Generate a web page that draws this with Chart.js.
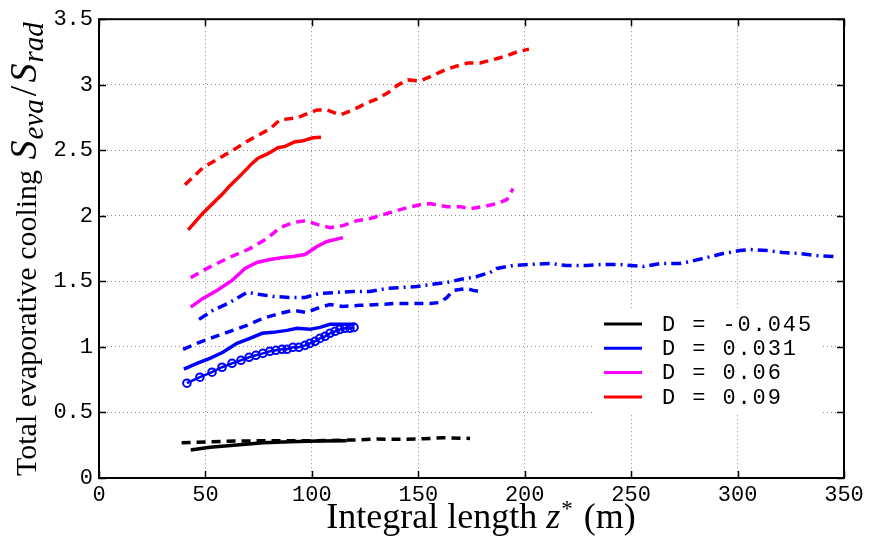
<!DOCTYPE html>
<html>
<head>
<meta charset="utf-8">
<script src="https://cdn.jsdelivr.net/npm/chart.js@4.4.1/dist/chart.umd.min.js"></script>
<style>
html, body { margin: 0; padding: 0; background: #fff; }
</style>
</head>
<body>
<canvas id="chart" width="873" height="540"></canvas>
<script>

// axis ticks
var xTickValues = [0, 50, 100, 150, 200, 250, 300, 350];
var yTickValues = [0, 0.5, 1, 1.5, 2, 2.5, 3, 3.5];

var legendLabels = ['D = -0.045', 'D = 0.031', 'D = 0.06', 'D = 0.09'];
var legendColors = ['#000000', '#0000ff', '#ff00ff', '#ff0000'];

// D = -0.045 (black)
var black_solid_x = [43.1, 52.1, 64.7, 77.2, 89.7, 102.3, 116.3];
var black_solid_y = [0.213, 0.234, 0.251, 0.269, 0.276, 0.282, 0.284];
var black_dash_x = [38.8, 52.1, 64.7, 77.2, 89.7, 102.3, 117.9, 130.4, 142.9, 152.3, 161.7, 174.3];
var black_dash_y = [0.269, 0.276, 0.282, 0.284, 0.284, 0.284, 0.289, 0.297, 0.295, 0.299, 0.307, 0.302];

// D = 0.031 (blue)
var blue_circ_x = [41.3, 47.4, 53.1, 57.8, 62.5, 66.7, 70.5, 73.7, 77.0, 80.3, 83.1, 86.0, 88.3, 91.1, 93.9, 96.8, 99.1, 101.5, 103.8, 106.2, 108.5, 110.9, 113.2, 115.5, 117.9, 119.8];
var blue_circ_y = [0.723, 0.769, 0.807, 0.845, 0.875, 0.898, 0.921, 0.936, 0.951, 0.967, 0.974, 0.982, 0.982, 0.997, 0.997, 1.012, 1.027, 1.043, 1.065, 1.081, 1.104, 1.119, 1.134, 1.142, 1.142, 1.149];
var blue_solid_x = [39.9, 46.0, 52.1, 58.2, 64.8, 70.9, 76.6, 81.7, 88.3, 93.0, 99.1, 103.8, 108.5, 114.6, 120.2];
var blue_solid_y = [0.830, 0.875, 0.913, 0.959, 1.027, 1.065, 1.104, 1.111, 1.126, 1.142, 1.134, 1.149, 1.172, 1.172, 1.172];
var blue_dash_x = [39.5, 46.0, 53.5, 61.5, 69.5, 77.0, 85.0, 91.1, 97.7, 102.4, 108.5, 114.6, 122.6, 132.0, 140.0, 147.5, 155.5, 160.2, 163.5, 166.3, 172.9, 175.7, 180.8];
var blue_dash_y = [0.982, 1.027, 1.073, 1.119, 1.164, 1.218, 1.256, 1.279, 1.263, 1.294, 1.324, 1.309, 1.317, 1.324, 1.332, 1.332, 1.332, 1.339, 1.377, 1.431, 1.446, 1.431, 1.416];
var blue_dashdot_x = [47.0, 53.5, 61.5, 69.5, 75.6, 81.7, 89.7, 96.8, 103.8, 111.8, 119.3, 127.3, 135.3, 142.8, 149.4, 155.5, 163.5, 169.6, 177.5, 183.7, 186.9, 194.5, 202.4, 211.8, 219.8, 229.2, 236.7, 244.7, 255.5, 263.5, 272.9, 277.6, 285.6, 293.1, 301.1, 305.8, 313.8, 321.3, 329.3, 337.2, 346.6];
var blue_dashdot_y = [1.210, 1.279, 1.339, 1.416, 1.400, 1.385, 1.377, 1.377, 1.408, 1.416, 1.423, 1.423, 1.446, 1.454, 1.461, 1.476, 1.492, 1.514, 1.537, 1.568, 1.598, 1.621, 1.629, 1.636, 1.621, 1.621, 1.629, 1.629, 1.613, 1.636, 1.636, 1.651, 1.682, 1.712, 1.735, 1.743, 1.735, 1.720, 1.712, 1.697, 1.689];

// D = 0.06 (magenta)
var mag_solid_x = [43.1, 48.8, 55.4, 62.5, 68.6, 74.2, 80.3, 86.4, 91.1, 96.8, 102.4, 107.1, 114.6];
var mag_solid_y = [1.304, 1.370, 1.431, 1.507, 1.598, 1.644, 1.667, 1.682, 1.689, 1.705, 1.766, 1.804, 1.834];
var mag_dash_x = [43.1, 48.8, 60.1, 70.9, 78.9, 85.0, 91.1, 96.8, 102.9, 108.5, 114.6, 121.2, 127.3, 132.0, 138.1, 144.7, 150.8, 155.5, 163.5, 169.6, 174.3, 180.4, 186.9, 191.6, 194.5];
var mag_dash_y = [1.527, 1.583, 1.674, 1.750, 1.826, 1.910, 1.948, 1.963, 1.933, 1.910, 1.925, 1.963, 1.979, 2.002, 2.032, 2.062, 2.085, 2.093, 2.070, 2.070, 2.055, 2.070, 2.093, 2.123, 2.207];

// D = 0.09 (red)
var red_solid_x = [41.9, 48.8, 58.2, 61.5, 67.2, 71.9, 74.7, 78.9, 84.1, 87.4, 92.1, 95.3, 100.5, 104.3];
var red_solid_y = [1.893, 2.02, 2.17, 2.23, 2.32, 2.40, 2.44, 2.47, 2.52, 2.53, 2.565, 2.57, 2.595, 2.60];
var red_dash_x = [40.4, 48.8, 60.1, 70.0, 80.3, 85.0, 93.0, 102.4, 107.1, 113.2, 119.3, 124.9, 130.6, 135.7, 140.4, 145.1, 150.8, 156.4, 162.5, 168.2, 173.3, 179.0, 184.6, 189.8, 196.3, 202.0];
var red_dash_y = [2.237, 2.367, 2.473, 2.572, 2.664, 2.732, 2.747, 2.808, 2.808, 2.770, 2.808, 2.854, 2.892, 2.938, 2.998, 3.037, 3.029, 3.067, 3.113, 3.143, 3.166, 3.166, 3.189, 3.212, 3.250, 3.272];


function pts(xs, ys){
	var out = [];
	for (var i = 0; i < xs.length; i++){ out.push({x: xs[i], y: ys[i]}); }
	return out;
}

var DASH = [9, 6];
var DASHDOT = [10, 5, 2, 5];

function line(xs, ys, color, dash){
	return {
		data: pts(xs, ys),
		borderColor: color,
		borderWidth: 3.5,
		borderDash: dash || [],
		pointRadius: 0,
		fill: false,
		tension: 0
	};
}

var datasets = [
	line(black_dash_x, black_dash_y, '#000000', DASH),
	line(black_solid_x, black_solid_y, '#000000'),
	line(blue_dashdot_x, blue_dashdot_y, '#0000ff', DASHDOT),
	line(blue_dash_x, blue_dash_y, '#0000ff', DASH),
	line(blue_solid_x, blue_solid_y, '#0000ff'),
	{
		data: pts(blue_circ_x, blue_circ_y),
		borderColor: '#0000ff',
		borderWidth: 2.5,
		pointRadius: 3.8,
		pointBorderWidth: 2,
		pointBackgroundColor: 'rgba(255,255,255,0)',
		pointBorderColor: '#0000ff',
		fill: false,
		tension: 0
	},
	line(mag_dash_x, mag_dash_y, '#ff00ff', DASH),
	line(mag_solid_x, mag_solid_y, '#ff00ff'),
	line(red_dash_x, red_dash_y, '#ff0000', DASH),
	line(red_solid_x, red_solid_y, '#ff0000')
];

// draws text made of pieces: {t, italic, size, shift, gap}
function setFont(ctx, p){
	ctx.font = (p.italic ? 'italic ' : '') + p.size + 'px "Liberation Serif", serif';
}
function richText(ctx, pieces, x, y){
	var cx = x;
	pieces.forEach(function(p){
		setFont(ctx, p);
		ctx.fillText(p.t, cx, y + (p.shift || 0));
		cx += ctx.measureText(p.t).width + (p.gap || 0);
	});
	return cx - x;
}
function richWidth(ctx, pieces){
	var w = 0;
	pieces.forEach(function(p){
		setFont(ctx, p);
		w += ctx.measureText(p.t).width + (p.gap || 0);
	});
	return w;
}

var yTitle = [
	{t: 'Total evaporative cooling ', size: 30, gap: 3},
	{t: 'S', italic: true, size: 38, gap: 1},
	{t: 'eva', italic: true, size: 29, shift: 7, gap: 3},
	{t: '/', size: 38, gap: 3},
	{t: 'S', italic: true, size: 38, gap: 1},
	{t: 'rad', italic: true, size: 29, shift: 7}
];
var xTitle = [
	{t: 'Integral length ', size: 36},
	{t: 'z', italic: true, size: 36, gap: 1},
	{t: '*', size: 23, shift: -12, gap: 2},
	{t: ' (m)', size: 36}
];

var decorations = {
	id: 'decorations',
	afterDraw: function(chart){
		var ctx = chart.ctx;
		var a = chart.chartArea;
		var xs = chart.scales.x, ys = chart.scales.y;
		ctx.save();

		// axes box
		ctx.strokeStyle = '#000';
		ctx.lineWidth = 2;
		ctx.strokeRect(a.left, a.top, a.right - a.left, a.bottom - a.top);

		// inward tick marks
		ctx.lineWidth = 1.5;
		ctx.beginPath();
		xTickValues.forEach(function(v){
			var px = Math.round(xs.getPixelForValue(v)) + 0.5;
			ctx.moveTo(px, a.bottom); ctx.lineTo(px, a.bottom - 7);
			ctx.moveTo(px, a.top); ctx.lineTo(px, a.top + 7);
		});
		yTickValues.forEach(function(v){
			var py = Math.round(ys.getPixelForValue(v)) + 0.5;
			ctx.moveTo(a.left, py); ctx.lineTo(a.left + 7, py);
			ctx.moveTo(a.right, py); ctx.lineTo(a.right - 7, py);
		});
		ctx.stroke();

		// legend
		ctx.fillStyle = '#fff';
		ctx.fillRect(592, 308, 230, 106);
		ctx.font = '22px "Liberation Mono", monospace';
		ctx.textBaseline = 'middle';
		legendLabels.forEach(function(lbl, i){
			var ly = 324 + i * 24.3;
			ctx.strokeStyle = legendColors[i];
			ctx.lineWidth = 3;
			ctx.beginPath();
			ctx.moveTo(604, ly); ctx.lineTo(642, ly);
			ctx.stroke();
			ctx.fillStyle = '#000';
			for (var k = 0; k < lbl.length; k++){
				ctx.fillText(lbl[k], 662 + k * 15.1, ly + 1);
			}
		});

		// axis titles
		ctx.fillStyle = '#000';
		ctx.textBaseline = 'alphabetic';
		ctx.textAlign = 'left';
		var w = richWidth(ctx, xTitle);
		richText(ctx, xTitle, 481 - w / 2, 528);

		ctx.translate(36, 476);
		ctx.rotate(-Math.PI / 2);
		richText(ctx, yTitle, 0, 0);
		ctx.restore();
	}
};

var tickFont = {family: '"Liberation Mono", monospace', size: 22};

new Chart(document.getElementById('chart'), {
	type: 'line',
	data: {datasets: datasets},
	options: {
		responsive: false,
		animation: false,
		layout: {padding: {top: 18, right: 29, left: 0, bottom: 0}},
		plugins: {legend: {display: false}, tooltip: {enabled: false}},
		scales: {
			x: {
				type: 'linear',
				min: 0, max: 350,
				afterFit: function(s){ s.height = 62; },
				afterBuildTicks: function(s){ s.ticks = xTickValues.map(function(v){ return {value: v}; }); },
				ticks: {color: '#000', font: tickFont, padding: 4, maxRotation: 0},
				grid: {color: '#8c8c8c', lineWidth: 1, drawTicks: false},
				border: {display: false, dash: [1, 3]}
			},
			y: {
				type: 'linear',
				min: 0, max: 3.5,
				afterFit: function(s){ s.width = 99; },
				afterBuildTicks: function(s){ s.ticks = yTickValues.map(function(v){ return {value: v}; }); },
				ticks: {color: '#000', font: tickFont, padding: 6, callback: function(v){ return String(v); }},
				grid: {color: '#8c8c8c', lineWidth: 1, drawTicks: false},
				border: {display: false, dash: [1, 3]}
			}
		}
	},
	plugins: [decorations]
});

</script>
</body>
</html>
